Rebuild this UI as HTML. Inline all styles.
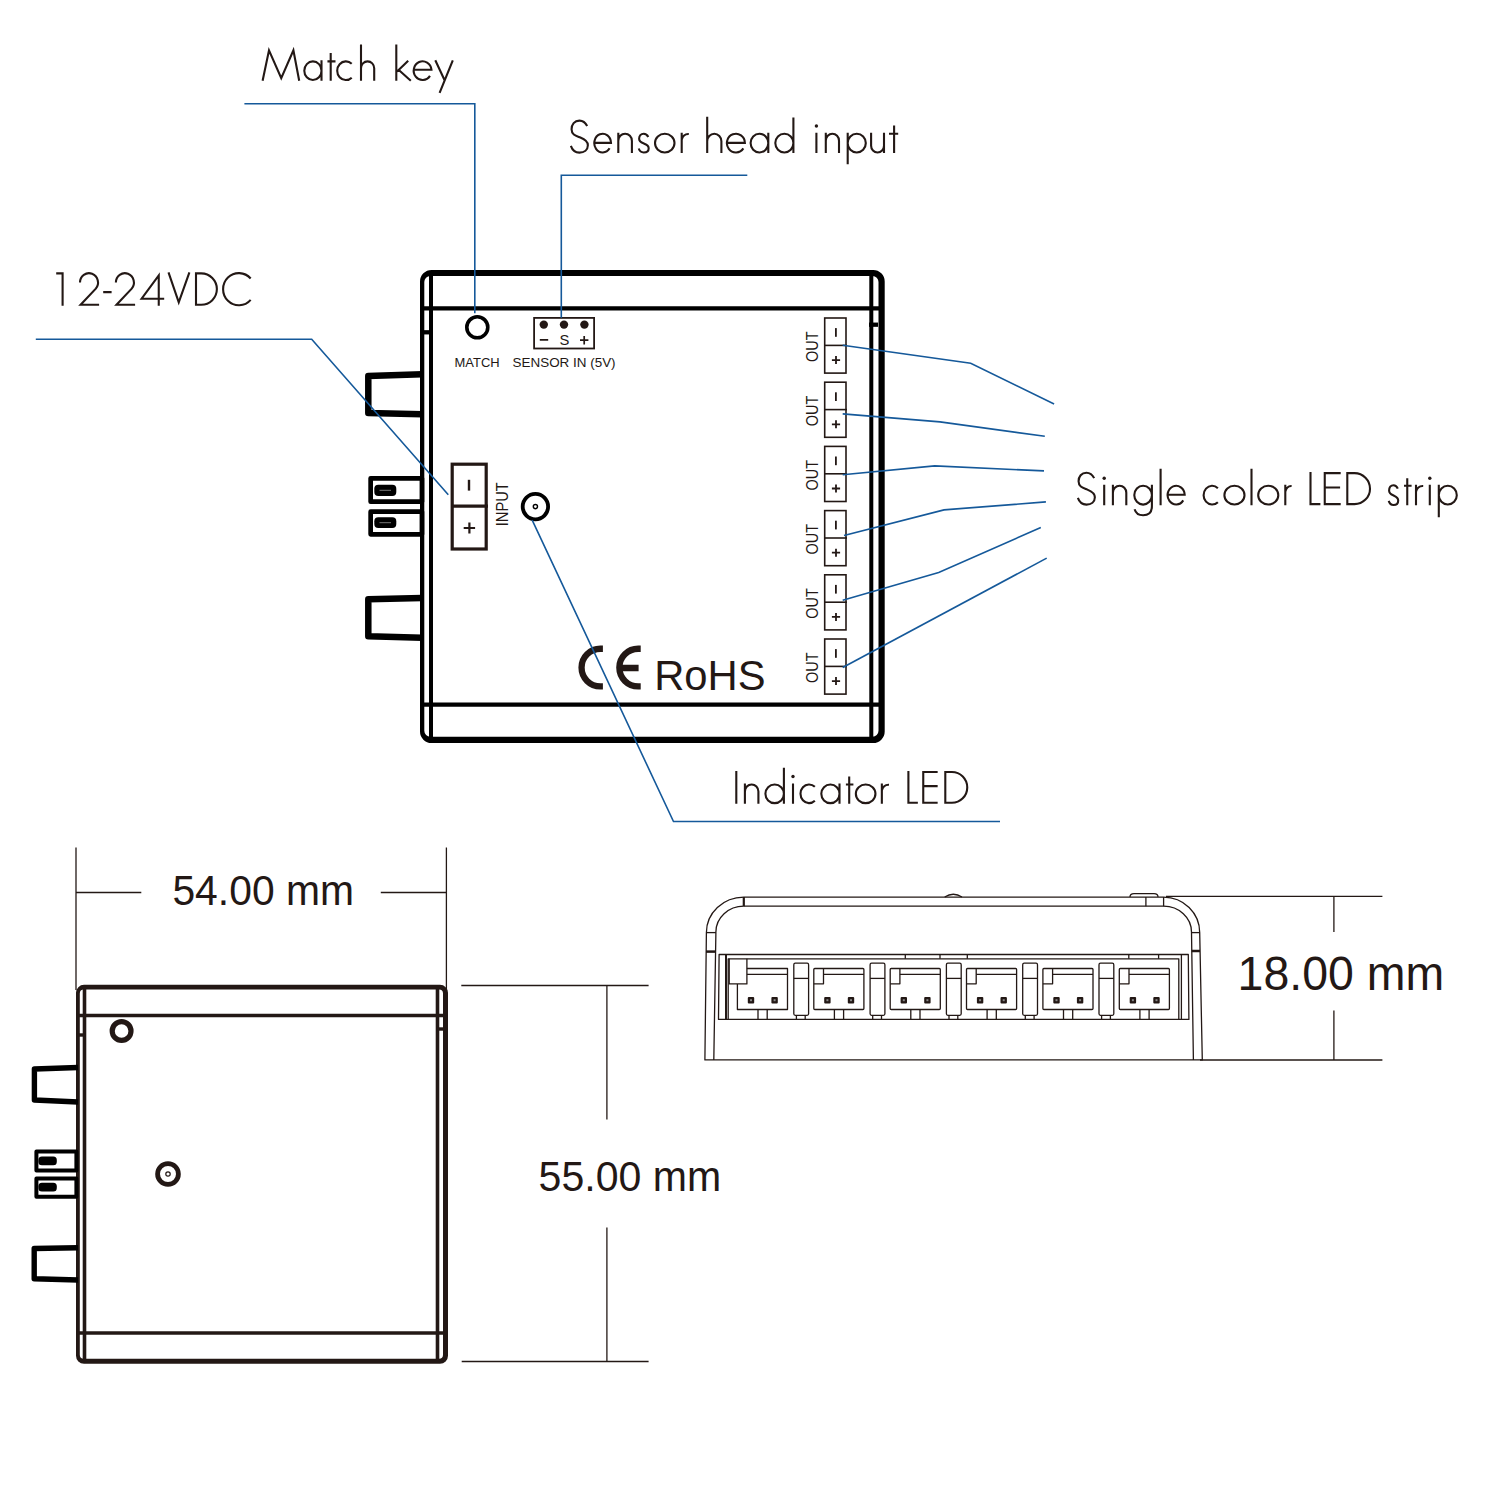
<!DOCTYPE html>
<html><head><meta charset="utf-8"><style>
html,body{margin:0;padding:0;background:#fff;}
svg{display:block;}
text{font-family:"Liberation Sans",sans-serif;}
.lbl{fill:#231815;stroke:#fff;stroke-width:1.6px;paint-order:normal;}
</style></head><body>
<svg width="1500" height="1500" viewBox="0 0 1500 1500">
<rect width="1500" height="1500" fill="#fff"/>

<g fill="none" stroke="#000" stroke-linejoin="round">
<path d="M431.50 270.00 H873.20 A11.5 11.5 0 0 1 884.70 281.50 V731.50 A11.5 11.5 0 0 1 873.20 743.00 H431.50 A11.5 11.5 0 0 1 420.00 731.50 V281.50 A11.5 11.5 0 0 1 431.50 270.00 Z M430.30 276.00 H872.50 A6 6 0 0 1 878.50 282.00 V730.70 A6 6 0 0 1 872.50 736.70 H430.30 A6 6 0 0 1 424.30 730.70 V282.00 A6 6 0 0 1 430.30 276.00 Z" fill="#000" stroke="none" fill-rule="evenodd"/>
<line x1="431" y1="274" x2="431" y2="739" stroke-width="4"/>
<line x1="871.3" y1="274" x2="871.3" y2="739" stroke-width="4"/>
<line x1="421" y1="308.3" x2="879" y2="308.3" stroke-width="4.3"/>
<line x1="421" y1="704.7" x2="879" y2="704.7" stroke-width="4.3"/>
<line x1="420" y1="332.3" x2="433" y2="332.3" stroke-width="4.3"/>
<line x1="869" y1="324.7" x2="878" y2="324.7" stroke-width="4.3"/>
<path d="M422 374.3 L368.3 376 L368.3 413 L422 414.3" stroke-width="6.5"/>
<path d="M422 598 L368.3 599.2 L368.3 636.3 L422 637.7" stroke-width="6.5"/>
<rect x="370.65" y="478.35" width="51.3" height="23.3" stroke-width="4.7"/>
<rect x="370.65" y="511.65" width="51.3" height="22.7" stroke-width="4.7"/>
</g>
<rect x="374.3" y="484.7" width="22" height="11.3" rx="4" fill="#000"/>
<rect x="374.3" y="517.3" width="22" height="10.7" rx="4" fill="#000"/>
<path d="M379.5 490.3 H391 M379.5 522.7 H391" stroke="#777" stroke-width="1"/>
<circle cx="477.3" cy="327.3" r="10.5" fill="none" stroke="#000" stroke-width="3.6"/>
<rect x="534.1" y="317.9" width="60" height="30.6" fill="none" stroke="#231815" stroke-width="1.8"/>
<circle cx="543.8" cy="324.6" r="4.2" fill="#231815"/>
<circle cx="564" cy="324.6" r="4.2" fill="#231815"/>
<circle cx="584.4" cy="324.6" r="4.2" fill="#231815"/>
<path d="M539.8 339.8 H548.2 M580 340.2 H588.4 M584.2 335.9 V344.6" stroke="#231815" stroke-width="1.7"/>
<text x="564.4" y="344.8" font-size="14.8" text-anchor="middle" fill="#231815">S</text>
<text x="454.6" y="366.9" font-size="12.2" fill="#231815" textLength="45" lengthAdjust="spacingAndGlyphs">MATCH</text>
<text x="512.6" y="366.9" font-size="12.2" fill="#231815" textLength="103" lengthAdjust="spacingAndGlyphs">SENSOR IN (5V)</text>
<rect x="452.2" y="464.2" width="34" height="84.8" fill="none" stroke="#231815" stroke-width="3.2"/>
<line x1="451" y1="506.2" x2="488" y2="506.2" stroke="#231815" stroke-width="3.2"/>
<rect x="467.8" y="479.8" width="2.4" height="10.8" fill="#231815"/>
<path d="M463.7 528 H475.1 M469.4 522.4 V533.6" stroke="#231815" stroke-width="2.2"/>
<text transform="translate(507.8 526.2) rotate(-90)" x="0" y="0" font-size="16.3" fill="#231815" textLength="44" lengthAdjust="spacingAndGlyphs">INPUT</text>
<circle cx="535.4" cy="506.6" r="12.7" fill="none" stroke="#000" stroke-width="3.8"/>
<circle cx="535.4" cy="506.6" r="2.1" fill="none" stroke="#000" stroke-width="1.4"/>
<rect x="824.7" y="318.0" width="21.3" height="55.1" fill="none" stroke="#231815" stroke-width="1.6"/>
<line x1="824" y1="345.4" x2="847" y2="345.4" stroke="#231815" stroke-width="1.6"/>
<rect x="835" y="328.1" width="1.8" height="8.7" fill="#231815"/>
<path d="M831.9 360.1 H840.1 M836 356.1 V364.1" stroke="#231815" stroke-width="1.8"/>
<text transform="translate(818.3 362.0) rotate(-90)" font-size="16" fill="#231815" textLength="30.6" lengthAdjust="spacingAndGlyphs">OUT</text>
<rect x="824.7" y="382.2" width="21.3" height="55.1" fill="none" stroke="#231815" stroke-width="1.6"/>
<line x1="824" y1="409.6" x2="847" y2="409.6" stroke="#231815" stroke-width="1.6"/>
<rect x="835" y="392.3" width="1.8" height="8.7" fill="#231815"/>
<path d="M831.9 424.3 H840.1 M836 420.3 V428.3" stroke="#231815" stroke-width="1.8"/>
<text transform="translate(818.3 426.2) rotate(-90)" font-size="16" fill="#231815" textLength="30.6" lengthAdjust="spacingAndGlyphs">OUT</text>
<rect x="824.7" y="446.4" width="21.3" height="55.1" fill="none" stroke="#231815" stroke-width="1.6"/>
<line x1="824" y1="473.8" x2="847" y2="473.8" stroke="#231815" stroke-width="1.6"/>
<rect x="835" y="456.5" width="1.8" height="8.7" fill="#231815"/>
<path d="M831.9 488.5 H840.1 M836 484.5 V492.5" stroke="#231815" stroke-width="1.8"/>
<text transform="translate(818.3 490.4) rotate(-90)" font-size="16" fill="#231815" textLength="30.6" lengthAdjust="spacingAndGlyphs">OUT</text>
<rect x="824.7" y="510.6" width="21.3" height="55.1" fill="none" stroke="#231815" stroke-width="1.6"/>
<line x1="824" y1="538.0" x2="847" y2="538.0" stroke="#231815" stroke-width="1.6"/>
<rect x="835" y="520.7" width="1.8" height="8.7" fill="#231815"/>
<path d="M831.9 552.7 H840.1 M836 548.7 V556.7" stroke="#231815" stroke-width="1.8"/>
<text transform="translate(818.3 554.6) rotate(-90)" font-size="16" fill="#231815" textLength="30.6" lengthAdjust="spacingAndGlyphs">OUT</text>
<rect x="824.7" y="574.8" width="21.3" height="55.1" fill="none" stroke="#231815" stroke-width="1.6"/>
<line x1="824" y1="602.2" x2="847" y2="602.2" stroke="#231815" stroke-width="1.6"/>
<rect x="835" y="584.9" width="1.8" height="8.7" fill="#231815"/>
<path d="M831.9 616.9 H840.1 M836 612.9 V620.9" stroke="#231815" stroke-width="1.8"/>
<text transform="translate(818.3 618.8) rotate(-90)" font-size="16" fill="#231815" textLength="30.6" lengthAdjust="spacingAndGlyphs">OUT</text>
<rect x="824.7" y="639.0" width="21.3" height="55.1" fill="none" stroke="#231815" stroke-width="1.6"/>
<line x1="824" y1="666.4" x2="847" y2="666.4" stroke="#231815" stroke-width="1.6"/>
<rect x="835" y="649.1" width="1.8" height="8.7" fill="#231815"/>
<path d="M831.9 681.1 H840.1 M836 677.1 V685.1" stroke="#231815" stroke-width="1.8"/>
<text transform="translate(818.3 683.0) rotate(-90)" font-size="16" fill="#231815" textLength="30.6" lengthAdjust="spacingAndGlyphs">OUT</text>
<path d="M602.9 648.75 H600.4 A18.85 18.85 0 0 0 600.4 686.45 H602.9" fill="none" stroke="#231815" stroke-width="6.3"/>
<path d="M640.7 648.75 H638.2 A18.85 18.85 0 0 0 638.2 686.45 H640.7 M620 668 H638.6" fill="none" stroke="#231815" stroke-width="6.3"/>
<text x="654.2" y="689.6" font-size="41.6" fill="#231815" textLength="111.4" lengthAdjust="spacingAndGlyphs">RoHS</text>
<g fill="none" stroke="#231815" stroke-linejoin="round">
<path d="M84.00 984.80 H440.00 A8 8 0 0 1 448.00 992.80 V1355.80 A8 8 0 0 1 440.00 1363.80 H84.00 A8 8 0 0 1 76.00 1355.80 V992.80 A8 8 0 0 1 84.00 984.80 Z M83.80 989.50 H439.00 A4 4 0 0 1 443.00 993.50 V1354.80 A4 4 0 0 1 439.00 1358.80 H83.80 A4 4 0 0 1 79.80 1354.80 V993.50 A4 4 0 0 1 83.80 989.50 Z" fill="#231815" stroke="none" fill-rule="evenodd"/>
<line x1="84.5" y1="988" x2="84.5" y2="1360" stroke-width="3.6"/>
<line x1="437.5" y1="988" x2="437.5" y2="1360" stroke-width="3.6"/>
<line x1="77" y1="1015.5" x2="446" y2="1015.5" stroke-width="3.5"/>
<line x1="77" y1="1333" x2="446" y2="1333" stroke-width="3.5"/>
<line x1="77" y1="1035" x2="86" y2="1035" stroke-width="3.4"/>
<line x1="436" y1="1029" x2="446" y2="1029" stroke-width="3.4"/>
<path d="M78 1067.5 L34.4 1069 L34.4 1100 L78 1102" stroke-width="5.4" stroke="#000"/>
<path d="M78 1247.7 L34.2 1248.5 L34.2 1278.7 L78 1280" stroke-width="5.4" stroke="#000"/>
<rect x="36.4" y="1151.5" width="40" height="18.9" stroke-width="4" stroke="#000"/>
<rect x="36.4" y="1178.4" width="40" height="18.4" stroke-width="4" stroke="#000"/>
<circle cx="121.6" cy="1031" r="9.4" stroke-width="5.2"/>
<circle cx="168" cy="1174" r="10.4" stroke-width="4.8"/>
<circle cx="168" cy="1174" r="2.2" stroke-width="1.2"/>
</g>
<rect x="38.4" y="1156.4" width="18.4" height="8.8" rx="3.5" fill="#000"/>
<rect x="38.4" y="1182.8" width="18.4" height="8.8" rx="3.5" fill="#000"/>
<g fill="none" stroke="#231815" stroke-width="1.3">
<line x1="76" y1="847.5" x2="76" y2="990"/>
<line x1="446.4" y1="847.5" x2="446.4" y2="990"/>
<line x1="76" y1="892.5" x2="141.3" y2="892.5"/>
<line x1="380.8" y1="892.5" x2="446.4" y2="892.5"/>
<line x1="461.3" y1="985.5" x2="648.6" y2="985.5"/>
<line x1="461.7" y1="1361.5" x2="648.6" y2="1361.5"/>
<line x1="606.9" y1="985.5" x2="606.9" y2="1119.6"/>
<line x1="606.9" y1="1227.4" x2="606.9" y2="1361.5"/>
<line x1="1166" y1="896.4" x2="1382.4" y2="896.4"/>
<line x1="1200" y1="1060" x2="1382.4" y2="1060"/>
<line x1="1333.9" y1="896.4" x2="1333.9" y2="932"/>
<line x1="1333.9" y1="1010.4" x2="1333.9" y2="1060"/>
</g>
<text x="172.4" y="904.8" font-size="41.9" fill="#231815" textLength="181.6" lengthAdjust="spacingAndGlyphs">54.00 mm</text>
<text x="538.6" y="1191" font-size="42.7" fill="#231815" textLength="182.6" lengthAdjust="spacingAndGlyphs">55.00 mm</text>
<text x="1237.6" y="990" font-size="48.7" fill="#231815" textLength="206.6" lengthAdjust="spacingAndGlyphs">18.00 mm</text>
<g fill="none" stroke="#231815" stroke-width="1.3" stroke-linejoin="round">
<path d="M743.8 897.1 H1163.6 A36.1 35.5 0 0 1 1199.7 932.6 L1202.3 1059.9 H704.9 L706.4 932.6 A37.4 35.5 0 0 1 743.8 897.1 Z"/>
<path d="M743.8 906.2 H1163.6 A27.9 25.8 0 0 1 1191.5 932 L1193.4 1059.9"/>
<path d="M713.8 1059.9 L715.9 932 A27.9 25.8 0 0 1 743.8 906.2"/>
<line x1="706.4" y1="932.6" x2="715.9" y2="932.6"/>
<line x1="706" y1="951.6" x2="715.7" y2="951.6" stroke-width="2.5"/>
<line x1="1191.5" y1="932.6" x2="1199.7" y2="932.6"/>
<line x1="1191.7" y1="951" x2="1200" y2="951" stroke-width="2.5"/>
<line x1="743.8" y1="897" x2="743.8" y2="906.3" stroke-width="2.2"/>
<line x1="1145.9" y1="897" x2="1145.9" y2="906.3"/>
<line x1="1163.6" y1="897" x2="1163.6" y2="906.3"/>
<path d="M1130 897 Q1130 893.6 1134 893.6 H1154 Q1158 893.6 1158 897"/>
<path d="M944.7 897 Q953.3 891.5 962 897"/>
<path d="M719.1 954.5 H1188.3 L1188.9 1019.4 H718.5 Z"/>
<line x1="726" y1="954.5" x2="726" y2="1019.4" stroke-width="2"/>
<path d="M728.2 1019.4 V958.8 H1178.8 V1019.4"/>
<line x1="1181.4" y1="954.5" x2="1181.4" y2="1019.4"/>
<line x1="905.3" y1="954.5" x2="905.3" y2="958.8"/>
<line x1="940" y1="954.5" x2="940" y2="958.8"/>
<line x1="967.3" y1="954.5" x2="967.3" y2="958.8"/>
<line x1="1128.8" y1="954.5" x2="1128.8" y2="958.8"/>
<line x1="1158.6" y1="954.5" x2="1158.6" y2="958.8"/>
<path d="M746.9 968.5 H787.5 V1009.5 H737.4 V983.9"/>
<path d="M729.2 958.8 V983.9 H746.9 V958.8"/>
<line x1="746.9" y1="974.4" x2="787.5" y2="974.4"/>
<path d="M758.0 1019.4 V1009.5 M767.2 1019.4 V1009.5"/>
<rect x="813.8" y="968.5" width="50.1" height="41" rx="1"/>
<path d="M813.8 983.8 H823.5 V968.5"/>
<line x1="823.5" y1="974.4" x2="863.9" y2="974.4"/>
<path d="M834.4 1019.4 V1009.5 M843.6 1019.4 V1009.5"/>
<rect x="890.2" y="968.5" width="50.1" height="41" rx="1"/>
<path d="M890.2 983.8 H899.9 V968.5"/>
<line x1="899.9" y1="974.4" x2="940.3" y2="974.4"/>
<path d="M910.8 1019.4 V1009.5 M920.0 1019.4 V1009.5"/>
<rect x="966.5" y="968.5" width="50.1" height="41" rx="1"/>
<path d="M966.5 983.8 H976.2 V968.5"/>
<line x1="976.2" y1="974.4" x2="1016.6" y2="974.4"/>
<path d="M987.1 1019.4 V1009.5 M996.3 1019.4 V1009.5"/>
<rect x="1042.9" y="968.5" width="50.1" height="41" rx="1"/>
<path d="M1042.9 983.8 H1052.6 V968.5"/>
<line x1="1052.6" y1="974.4" x2="1093.0" y2="974.4"/>
<path d="M1063.5 1019.4 V1009.5 M1072.7 1019.4 V1009.5"/>
<rect x="1119.3" y="968.5" width="50.1" height="41" rx="1"/>
<path d="M1119.3 983.8 H1129.0 V968.5"/>
<line x1="1129.0" y1="974.4" x2="1169.4" y2="974.4"/>
<path d="M1139.9 1019.4 V1009.5 M1149.1 1019.4 V1009.5"/>
<rect x="793.8" y="963.2" width="14.8" height="52.1" rx="1.5"/>
<line x1="793.8" y1="978.4" x2="808.6" y2="978.4"/>
<path d="M796.4 1019.4 V1015.3 M805.2 1019.4 V1015.3"/>
<rect x="870.1" y="963.2" width="14.8" height="52.1" rx="1.5"/>
<line x1="870.1" y1="978.4" x2="884.9" y2="978.4"/>
<path d="M872.7 1019.4 V1015.3 M881.5 1019.4 V1015.3"/>
<rect x="946.4" y="963.2" width="14.8" height="52.1" rx="1.5"/>
<line x1="946.4" y1="978.4" x2="961.2" y2="978.4"/>
<path d="M949.0 1019.4 V1015.3 M957.8 1019.4 V1015.3"/>
<rect x="1022.7" y="963.2" width="14.8" height="52.1" rx="1.5"/>
<line x1="1022.7" y1="978.4" x2="1037.5" y2="978.4"/>
<path d="M1025.3 1019.4 V1015.3 M1034.1 1019.4 V1015.3"/>
<rect x="1099.0" y="963.2" width="14.8" height="52.1" rx="1.5"/>
<line x1="1099.0" y1="978.4" x2="1113.8" y2="978.4"/>
<path d="M1101.6 1019.4 V1015.3 M1110.4 1019.4 V1015.3"/>
</g>
<rect x="747.8" y="997" width="6.4" height="6.4" rx="1" fill="#231815"/>
<rect x="750.0" y="999.2" width="2" height="2" fill="#888"/>
<rect x="771.4" y="997" width="6.4" height="6.4" rx="1" fill="#231815"/>
<rect x="773.6" y="999.2" width="2" height="2" fill="#888"/>
<rect x="824.2" y="997" width="6.4" height="6.4" rx="1" fill="#231815"/>
<rect x="826.4" y="999.2" width="2" height="2" fill="#888"/>
<rect x="847.8" y="997" width="6.4" height="6.4" rx="1" fill="#231815"/>
<rect x="850.0" y="999.2" width="2" height="2" fill="#888"/>
<rect x="900.6" y="997" width="6.4" height="6.4" rx="1" fill="#231815"/>
<rect x="902.8" y="999.2" width="2" height="2" fill="#888"/>
<rect x="924.2" y="997" width="6.4" height="6.4" rx="1" fill="#231815"/>
<rect x="926.4" y="999.2" width="2" height="2" fill="#888"/>
<rect x="976.9" y="997" width="6.4" height="6.4" rx="1" fill="#231815"/>
<rect x="979.1" y="999.2" width="2" height="2" fill="#888"/>
<rect x="1000.5" y="997" width="6.4" height="6.4" rx="1" fill="#231815"/>
<rect x="1002.7" y="999.2" width="2" height="2" fill="#888"/>
<rect x="1053.3" y="997" width="6.4" height="6.4" rx="1" fill="#231815"/>
<rect x="1055.5" y="999.2" width="2" height="2" fill="#888"/>
<rect x="1076.9" y="997" width="6.4" height="6.4" rx="1" fill="#231815"/>
<rect x="1079.1" y="999.2" width="2" height="2" fill="#888"/>
<rect x="1129.7" y="997" width="6.4" height="6.4" rx="1" fill="#231815"/>
<rect x="1131.9" y="999.2" width="2" height="2" fill="#888"/>
<rect x="1153.3" y="997" width="6.4" height="6.4" rx="1" fill="#231815"/>
<rect x="1155.5" y="999.2" width="2" height="2" fill="#888"/>
<g fill="none" stroke="#15599a" stroke-width="1.6" stroke-linejoin="miter">
<polyline points="244.4,103.8 474.8,103.8 474.8,313.3"/>
<polyline points="747.3,175.2 561.3,175.2 561.3,317.8"/>
<polyline points="35.8,339.2 311.7,339.2 448.3,494.7"/>
<polyline points="1000,821.5 673.5,821.5 532.2,520.2"/>
<polyline points="842.7,345.3 970.7,363.2 1054.1,404"/>
<polyline points="842.7,413.9 940,421.9 1044.8,436.3"/>
<polyline points="842.7,474.7 934.7,465.9 1044,470.9"/>
<polyline points="844,535.5 944,509.9 1045.9,501.9"/>
<polyline points="842.7,600.3 938.7,572.5 1040.8,527.5"/>
<polyline points="842.7,667.5 1046.7,558.1"/>
</g>
<path d="M262.60 80.70 L269.00 50.30 L281.25 78.10 L293.40 50.30 L299.20 80.70 M304.30 70.70 A8.60 9.35 0 1 1 321.50 70.70 A8.60 9.35 0 1 1 304.30 70.70 M321.50 60.30 V80.70 M330.70 52.95 V80.70 M327.45 61.35 H335.50 M351.72 63.75 A8.70 9.35 0 1 0 351.72 77.65 M361.00 44.40 V80.70 M361.00 68.28 A6.60 6.93 0 0 1 374.20 68.28 V80.70 M396.30 44.40 V80.70 M408.20 60.80 L397.10 71.50 M398.80 70.00 L410.80 80.70 M413.70 69.70 H431.45 A8.90 9.35 0 1 0 429.98 75.93 M435.30 60.30 L444.60 80.20 M452.80 60.30 L439.60 92.80 " fill="none" stroke="#231815" stroke-width="2.1" stroke-linejoin="miter" stroke-miterlimit="8"/>
<path d="M587.15 126.04 C584.82 121.24 582.13 120.60 579.45 120.60 C574.44 120.60 571.57 124.44 571.57 129.24 C571.57 135.00 576.41 135.96 580.35 137.56 C585.18 139.48 587.86 141.72 587.86 145.24 C587.86 150.04 584.10 152.60 579.45 152.60 C575.51 152.60 572.29 150.04 570.86 145.88 M594.30 142.90 H611.00 A8.35 9.35 0 1 0 609.57 148.33 M618.30 132.70 V153.10 M618.30 140.89 A6.80 7.14 0 0 1 631.90 140.89 V153.10 M648.26 136.93 C646.90 134.12 645.33 133.75 643.75 133.75 C640.81 133.75 639.13 135.99 639.13 138.80 C639.13 142.16 641.97 142.73 644.27 143.66 C647.11 144.78 648.68 146.09 648.68 148.15 C648.68 150.95 646.48 152.45 643.75 152.45 C641.44 152.45 639.55 150.95 638.71 148.52 M655.00 143.10 A9.75 9.35 0 1 1 674.50 143.10 A9.75 9.35 0 1 1 655.00 143.10 M681.70 132.70 V153.10 M681.70 139.75 Q683.20 133.75 688.80 134.05 M707.20 116.80 V153.10 M707.20 141.20 A7.10 7.45 0 0 1 721.40 141.20 V153.10 M726.90 142.90 H744.90 A9.00 9.35 0 1 0 743.36 148.33 M750.60 143.10 A8.85 9.35 0 1 1 768.30 143.10 A8.85 9.35 0 1 1 750.60 143.10 M768.30 132.70 V153.10 M775.30 143.10 A9.05 9.35 0 1 1 793.40 143.10 A9.05 9.35 0 1 1 775.30 143.10 M793.40 117.40 V153.10 M816.40 132.70 V153.10 M825.80 132.70 V153.10 M825.80 140.68 A6.60 6.93 0 0 1 839.00 140.68 V153.10 M847.70 143.10 A9.05 9.35 0 1 1 865.80 143.10 A9.05 9.35 0 1 1 847.70 143.10 M847.70 132.70 V164.30 M871.10 132.70 V145.68 A6.45 6.77 0 0 0 884.00 145.68 M884.00 132.70 V153.10 M894.10 125.40 V153.10 M889.00 133.75 H898.20 " fill="none" stroke="#231815" stroke-width="2.1" stroke-linejoin="miter" stroke-miterlimit="8"/><circle cx="816.40" cy="126.00" r="1.7" fill="#231815"/>
<path d="M56.2 273.4 H62.6 V305.8 M80.0 282.6 A9.0 9.3 0 1 1 95.8 288.6 L80.6 304.75 H99.1 M103.2 292.1 H111.6 M115.9 282.6 A9.0 9.3 0 1 1 131.7 288.6 L116.5 304.75 H135.1 M164.2 298.75 H141.6 L158.75 275.4 V305.8 M168.50 272.30 L178.75 302.40 L189.40 272.30 M196.00 273.35 H201.20 A15.70 15.70 0 0 1 201.20 304.75 H196.00 Z M250.67 278.50 A15.78 16.10 0 1 0 250.67 299.90 " fill="none" stroke="#231815" stroke-width="2.1" stroke-linejoin="miter" stroke-miterlimit="8"/>
<path d="M1094.15 478.12 C1091.82 473.34 1089.13 472.70 1086.45 472.70 C1081.44 472.70 1078.57 476.53 1078.57 481.31 C1078.57 487.06 1083.41 488.01 1087.35 489.61 C1092.18 491.52 1094.86 493.75 1094.86 497.26 C1094.86 502.05 1091.10 504.60 1086.45 504.60 C1082.51 504.60 1079.29 502.05 1077.86 497.90 M1104.20 484.70 V505.20 M1112.90 484.70 V505.20 M1112.90 492.78 A6.70 7.03 0 0 1 1126.30 492.78 V505.20 M1134.30 495.15 A8.80 9.40 0 1 1 1151.90 495.15 A8.80 9.40 0 1 1 1134.30 495.15 M1151.90 484.70 V506.20 Q1151.90 515.25 1143.10 515.25 Q1136.30 515.25 1134.60 509.25 M1160.60 468.70 V505.20 M1167.60 494.70 H1184.69 A8.55 9.40 0 1 0 1183.24 500.41 M1217.87 488.16 A8.55 9.40 0 1 0 1217.87 502.14 M1224.40 495.15 A10.05 9.40 0 1 1 1244.50 495.15 A10.05 9.40 0 1 1 1224.40 495.15 M1251.50 468.70 V505.20 M1258.20 495.15 A10.05 9.40 0 1 1 1278.30 495.15 A10.05 9.40 0 1 1 1258.20 495.15 M1285.30 484.70 V505.20 M1285.30 491.75 Q1286.80 485.75 1291.60 486.05 M1310.50 472.10 V504.15 H1320.40 M1340.70 473.15 H1324.75 V504.15 H1340.70 M1324.75 487.50 H1340.10 M1347.30 473.15 H1354.50 A15.50 15.50 0 0 1 1354.50 504.15 H1347.30 Z M1397.80 488.57 C1396.50 485.60 1395.00 485.20 1393.50 485.20 C1390.70 485.20 1389.10 487.58 1389.10 490.55 C1389.10 494.11 1391.80 494.70 1394.00 495.69 C1396.70 496.88 1398.20 498.27 1398.20 500.45 C1398.20 503.42 1396.10 505.00 1393.50 505.00 C1391.30 505.00 1389.50 503.42 1388.70 500.84 M1407.25 478.20 V505.20 M1404.00 485.75 H1411.60 M1416.00 484.70 V505.20 M1416.00 491.75 Q1417.50 485.75 1423.20 486.05 M1429.80 484.70 V505.20 M1438.80 495.15 A9.00 9.40 0 1 1 1456.80 495.15 A9.00 9.40 0 1 1 1438.80 495.15 M1438.80 484.70 V517.20 " fill="none" stroke="#231815" stroke-width="2.1" stroke-linejoin="miter" stroke-miterlimit="8"/><circle cx="1104.20" cy="478.20" r="1.7" fill="#231815"/><circle cx="1429.80" cy="478.20" r="1.7" fill="#231815"/>
<path d="M736.30 771.00 V803.80 M744.90 783.40 V803.80 M744.90 791.54 A6.75 7.09 0 0 1 758.40 791.54 V803.80 M765.40 793.80 A9.25 9.35 0 1 1 783.90 793.80 A9.25 9.35 0 1 1 765.40 793.80 M783.90 767.80 V803.80 M793.00 783.40 V803.80 M814.85 786.85 A8.60 9.35 0 1 0 814.85 800.75 M821.30 793.80 A9.10 9.35 0 1 1 839.50 793.80 A9.10 9.35 0 1 1 821.30 793.80 M839.50 783.40 V803.80 M849.20 776.60 V803.80 M845.90 784.45 H853.40 M855.85 793.80 A9.80 9.35 0 1 1 875.45 793.80 A9.80 9.35 0 1 1 855.85 793.80 M881.85 783.40 V803.80 M881.85 790.45 Q883.35 784.45 889.00 784.75 M908.40 771.00 V802.75 H917.85 M937.65 772.05 H923.25 V802.75 H937.65 M923.25 786.10 H937.65 M945.30 772.05 H951.90 A15.35 15.35 0 0 1 951.90 802.75 H945.30 Z " fill="none" stroke="#231815" stroke-width="2.1" stroke-linejoin="miter" stroke-miterlimit="8"/><circle cx="793.00" cy="776.50" r="1.7" fill="#231815"/>

</svg></body></html>
